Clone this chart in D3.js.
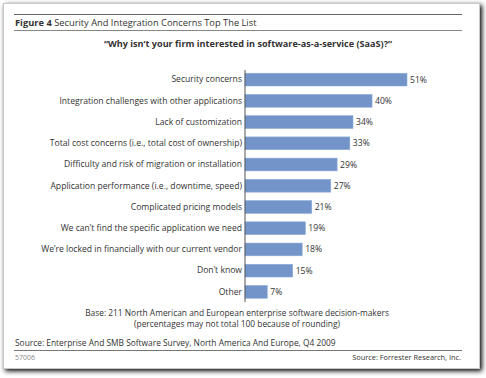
<!DOCTYPE html>
<html><head><meta charset="utf-8">
<script src="https://cdn.jsdelivr.net/npm/d3@7"></script>
<style>body{margin:0;background:#fff;}svg{display:block;font-family:"Open Sans","Liberation Sans",sans-serif;}</style>
</head><body><div id="chart"></div>
<script>
const categories = [
  "Security concerns",
  "Integration challenges with other applications",
  "Lack of customization",
  "Total cost concerns (i.e., total cost of ownership)",
  "Difficulty and risk of migration or installation",
  "Application performance (i.e., downtime, speed)",
  "Complicated pricing models",
  "We can\u2019t find the specific application we need",
  "We\u2019re locked in financially with our current vendor",
  "Don\u2019t know",
  "Other"
];
const values = [51, 40, 34, 33, 29, 27, 21, 19, 18, 15, 7];
const valueLabels = values.map(v => v + "%");

const W = 486, H = 378;
const svg = d3.select("#chart").append("svg").attr("width", W).attr("height", H);

// shadowed frame
const defs = svg.append("defs");
const f = defs.append("filter").attr("id","sh").attr("x","-5%").attr("y","-5%").attr("width","110%").attr("height","110%");
f.append("feGaussianBlur").attr("in","SourceAlpha").attr("stdDeviation",2.5);
f.append("feOffset").attr("dx",1.5).attr("dy",2).attr("result","b");
const fm = f.append("feMerge"); fm.append("feMergeNode").attr("in","b"); fm.append("feMergeNode").attr("in","SourceGraphic");
svg.append("rect").attr("x",3.5).attr("y",3.5).attr("width",476).attr("height",365)
  .attr("fill","#fff").attr("stroke","#c8c8c8").attr("filter","url(#sh)");

const txt = "#333";
// header rules
svg.append("line").attr("x1",14).attr("x2",462).attr("y1",14.5).attr("y2",14.5).attr("stroke","#666").attr("stroke-width",1);
svg.append("line").attr("x1",14).attr("x2",462).attr("y1",30.5).attr("y2",30.5).attr("stroke","#888").attr("stroke-width",1);
const t = svg.append("text").attr("x",15).attr("y",26).attr("font-size",9.3).attr("fill",txt);
t.append("tspan").attr("font-weight","bold").text("Figure 4 ");
t.append("tspan").text("Security And Integration Concerns Top The List");

svg.append("text").attr("x",248).attr("y",47).attr("text-anchor","middle").attr("font-size",9.1)
  .attr("font-weight","bold").attr("fill",txt).text("\u201cWhy isn\u2019t your firm interested in software-as-a-service (SaaS)?\u201d");

// scales
const x = d3.scaleLinear().domain([0, 51]).range([245, 407]);
const y = d3.scaleBand().domain(categories).range([69, 302.5]).paddingInner(0.4).paddingOuter(0.2);

const g = svg.append("g");
g.selectAll("rect.bar").data(values).join("rect").attr("class","bar")
  .attr("x", x(0)).attr("y", (d,i) => y(categories[i]))
  .attr("width", d => x(d) - x(0)).attr("height", y.bandwidth())
  .attr("fill", "#7294c9").attr("stroke","#8eaad6").attr("stroke-width",0.6);

g.selectAll("text.val").data(values).join("text").attr("class","val")
  .attr("x", d => x(d) + 3).attr("y", (d,i) => y(categories[i]) + y.bandwidth()/2)
  .attr("dy","0.35em").attr("font-size",8.6).attr("fill",txt).text((d,i) => valueLabels[i]);

const ax = svg.append("g").attr("transform", `translate(${x(0)},0)`)
  .call(d3.axisLeft(y).tickSize(0).tickPadding(3));
ax.select(".domain").attr("stroke","#555").attr("d", `M0,70V302`);
ax.selectAll("text").attr("font-size",8.6).attr("fill",txt)
  .attr("font-family","\"Open Sans\",\"Liberation Sans\",sans-serif");

// footer
svg.append("text").attr("x",237).attr("y",316).attr("text-anchor","middle").attr("font-size",8.4).attr("fill",txt)
  .text("Base: 211 North American and European enterprise software decision-makers");
svg.append("text").attr("x",237).attr("y",327).attr("text-anchor","middle").attr("font-size",8.4).attr("fill",txt)
  .text("(percentages may not total 100 because of rounding)");
svg.append("text").attr("x",15).attr("y",345.5).attr("font-size",8.4).attr("fill",txt)
  .text("Source: Enterprise And SMB Software Survey, North America And Europe, Q4 2009");
svg.append("line").attr("x1",14).attr("x2",462).attr("y1",350.5).attr("y2",350.5).attr("stroke","#777");
svg.append("text").attr("x",15).attr("y",360).attr("font-size",7).attr("fill","#888").text("57006");
svg.append("text").attr("x",461).attr("y",360).attr("text-anchor","end").attr("font-size",7.4).attr("fill",txt)
  .text("Source: Forrester Research, Inc.");
</script></body></html>
